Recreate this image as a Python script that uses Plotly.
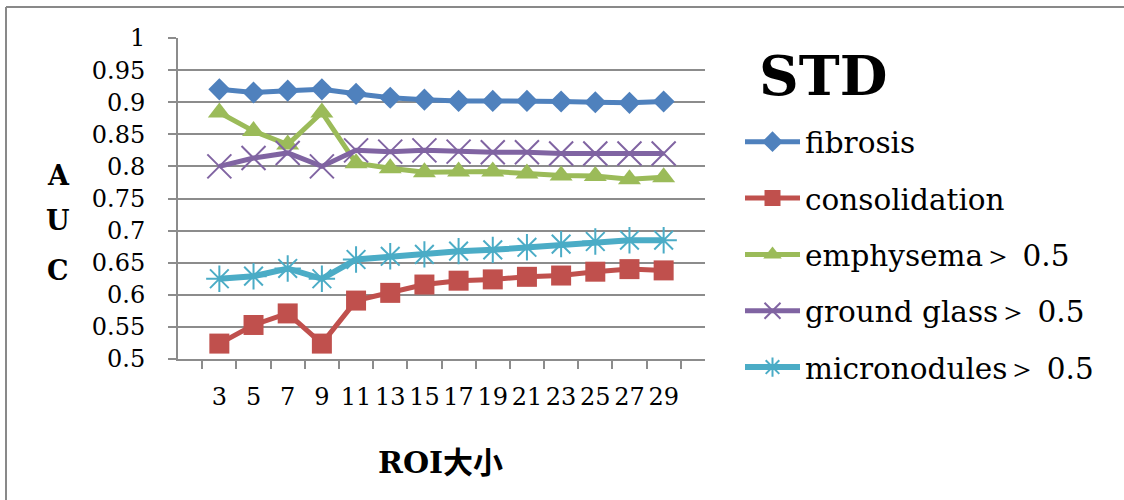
import plotly.graph_objects as go

# ROI sizes on the x axis
roi_sizes = ["3", "5", "7", "9", "11", "13", "15", "17", "19", "21", "23", "25", "27", "29"]

# AUC per ROI size for each pattern
fibrosis = [0.920, 0.915, 0.918, 0.920, 0.913, 0.907, 0.904, 0.902, 0.902, 0.902, 0.901, 0.900, 0.899, 0.901]
consolidation = [0.524, 0.553, 0.571, 0.524, 0.591, 0.603, 0.616, 0.622, 0.624, 0.628, 0.630, 0.636, 0.640, 0.638]
emphysema = [0.884, 0.855, 0.834, 0.884, 0.805, 0.797, 0.791, 0.792, 0.792, 0.789, 0.786, 0.785, 0.780, 0.783]
ground_glass = [0.800, 0.813, 0.821, 0.800, 0.825, 0.823, 0.825, 0.823, 0.822, 0.822, 0.820, 0.820, 0.820, 0.820]
micronodules = [0.625, 0.629, 0.641, 0.625, 0.655, 0.660, 0.663, 0.668, 0.670, 0.674, 0.679, 0.683, 0.685, 0.685]

y_tick_vals = [0.5, 0.55, 0.6, 0.65, 0.7, 0.75, 0.8, 0.85, 0.9, 0.95, 1.0]
y_tick_text = ["0.5", "0.55", "0.6", "0.65", "0.7", "0.75", "0.8", "0.85", "0.9", "0.95", "1"]

SERIF = "DejaVu Serif"
GRID = "#8c8c8c"

# plot-area pixel box used to place the free-floating texts
L, R, T, B = 178, 705, 38, 359
W, H = R - L, B - T


def px(x):
    return (x - L) / W


def py(y):
    return (B - y) / H


series = [
    ("fibrosis", fibrosis, "#4F81BD", dict(symbol="diamond", size=17), 5),
    ("consolidation", consolidation, "#C0504D", dict(symbol="square", size=20), 5),
    ("emphysema\uff1e 0.5", emphysema, "#9BBB59", dict(symbol="triangle-up", size=20), 5),
    ("ground glass\uff1e 0.5", ground_glass, "#8064A2",
     dict(symbol="x-thin-open", size=24, line=dict(width=2, color="#8064A2")), 5),
    ("micronodules\uff1e 0.5", micronodules, "#4BACC6",
     dict(symbol="asterisk-open", size=22, line=dict(width=2, color="#4BACC6")), 6),
]

fig = go.Figure()
for i, (name, vals, color, marker, lw) in enumerate(series):
    m = dict(color=color, **marker)
    fig.add_trace(go.Scatter(
        x=roi_sizes, y=vals, name=name, mode="lines+markers",
        line=dict(color=color, width=lw), marker=m, legendgroup=str(i),
    ))

fig.update_layout(
    width=1124, height=500,
    margin=dict(l=L, r=1124 - R, t=T, b=500 - B, pad=0, autoexpand=False),
    paper_bgcolor="white", plot_bgcolor="white",
    font=dict(family=SERIF, size=24, color="black"),
    showlegend=True,
    legend=dict(
        x=px(740), y=py(116), xanchor="left", yanchor="top",
        font=dict(family=SERIF, size=29.5, color="black"),
        itemwidth=55, tracegroupgap=15, bgcolor="rgba(0,0,0,0)",
    ),
    xaxis=dict(
        type="category", tickson="boundaries", ticks="outside", ticklen=8,
        tickwidth=2, tickcolor=GRID, showline=True, linecolor=GRID, linewidth=2,
        showgrid=False, tickfont=dict(family=SERIF, size=24), ticklabelstandoff=15,
        tickmode="array", tickvals=roi_sizes, tickangle=0,
    ),
    yaxis=dict(
        range=[0.5, 1.0], tickvals=y_tick_vals, ticktext=y_tick_text,
        ticks="outside", ticklen=8, tickwidth=2, tickcolor=GRID,
        showline=True, linecolor=GRID, linewidth=2,
        showgrid=True, gridcolor=GRID, gridwidth=2, zeroline=False,
        tickfont=dict(family=SERIF, size=24), ticklabelstandoff=18,
    ),
)


def note(text, x, y, size, family=SERIF):
    fig.add_annotation(text=text, x=px(x), y=py(y), xref="paper", yref="paper",
                       xanchor="center", yanchor="middle", showarrow=False,
                       font=dict(family=family, size=size, color="black"))


# chart title beside the plot, above the legend
note("<b>STD</b>", 823, 75, 55)

# stacked y-axis title
for letter, ypix in zip(["A", "U", "C"], [175, 221, 270]):
    note(f"<b>{letter}</b>", 58, ypix, 27)

# x-axis title
note("<b>ROI大小</b>", 440, 462, 30, "DejaVu Serif, Noto Sans CJK SC")

# outer frame edges (top and left)
fig.add_shape(type="line", xref="paper", yref="paper", x0=px(6), y0=py(7), x1=px(1124), y1=py(7),
              line=dict(color="#898989", width=2))
fig.add_shape(type="line", xref="paper", yref="paper", x0=px(6), y0=py(7), x1=px(6), y1=py(500),
              line=dict(color="#898989", width=2))

fig.write_html("out.html")
